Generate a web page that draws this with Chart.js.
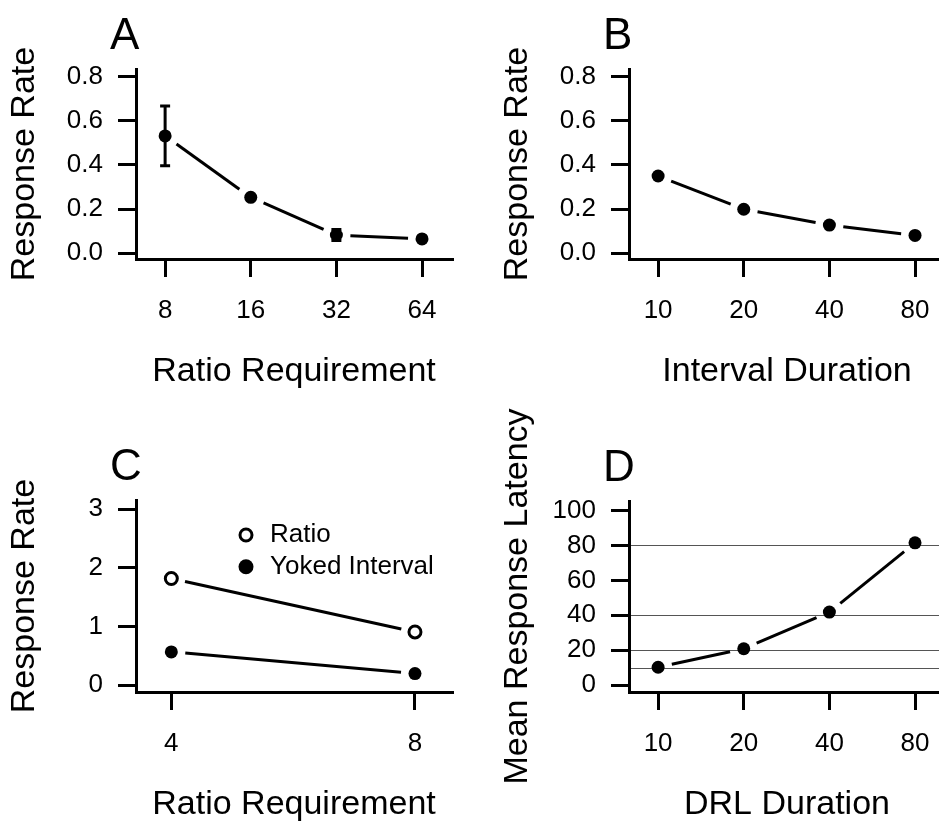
<!DOCTYPE html>
<html>
<head>
<meta charset="utf-8">
<script src="https://cdn.jsdelivr.net/npm/chart.js@4.4.1/dist/chart.umd.min.js"></script>
<style>
  html, body { margin: 0; padding: 0; background: #fff; }
  #figure { position: relative; width: 939px; height: 821px; overflow: hidden; background: #fff; }
  #figure canvas { position: absolute; }
</style>
</head>
<body>
<div id="figure">
  <canvas id="panelA" width="470" height="400" style="left:0;top:0"></canvas>
  <canvas id="panelB" width="470" height="400" style="left:493px;top:0"></canvas>
  <canvas id="panelC" width="470" height="440" style="left:0;top:393px"></canvas>
  <canvas id="panelD" width="470" height="440" style="left:493px;top:393px"></canvas>
</div>
<script>
// ===== data =====

// A: fixed ratio
const ratioReq = [8, 16, 32, 64];
const ratioRate = [0.532, 0.253, 0.082, 0.064];
const ratioErrLow = [0.397, null, 0.057, null];
const ratioErrHigh = [0.668, null, 0.107, null];

// B: fixed interval
const intervalDur = [10, 20, 40, 80];
const intervalRate = [0.35, 0.199, 0.127, 0.08];

// C: ratio vs yoked interval
const yokedReq = [4, 8];
const yokedRatioRate = [1.82, 0.91];
const yokedIntervalRate = [0.57, 0.2];
const seriesNames = ["Ratio", "Yoked Interval"];

// D: DRL
const drlDur = [10, 20, 40, 80];
const drlLatency = [10.2, 20.8, 41.8, 81.5];
const drlGuides = [10, 20, 40, 80];

// tick labels
const rateTicksAB = [0, 0.2, 0.4, 0.6, 0.8];
const rateTicksC = [0, 1, 2, 3];
const latencyTicks = [0, 20, 40, 60, 80, 100];

// ===== style =====

const FONT = "'Liberation Sans', Arial, Helvetica, sans-serif";
Chart.defaults.font.family = FONT;
Chart.defaults.color = "#000";

function toPoints(xs, ys) {
  return xs.map((x, i) => ({ x, y: ys[i] }));
}

// panel letter above the y axis
const panelLetter = {
  id: "panelLetter",
  afterDraw(chart, args, opts) {
    const { ctx, chartArea } = chart;
    ctx.save();
    ctx.font = `44px ${FONT}`;
    ctx.fillStyle = "#000";
    ctx.textAlign = "left";
    ctx.textBaseline = "alphabetic";
    ctx.fillText(opts.text, chartArea.left - 26, chartArea.top - 20);
    ctx.restore();
  },
};

// thin horizontal guide lines (panel D)
const guideLines = {
  id: "guideLines",
  beforeDatasetsDraw(chart, args, opts) {
    if (!opts.values || !opts.values.length) return;
    const { ctx, chartArea, scales } = chart;
    ctx.save();
    ctx.strokeStyle = "#555";
    ctx.lineWidth = 1;
    opts.values.forEach((v) => {
      const y = Math.round(scales.y.getPixelForValue(v)) + 0.5;
      ctx.beginPath();
      ctx.moveTo(chartArea.left + 2, y);
      ctx.lineTo(chartArea.right, y);
      ctx.stroke();
    });
    ctx.restore();
  },
};

// lines between points, stopping short of each point
const gapLines = {
  id: "gapLines",
  beforeDatasetsDraw(chart, args, opts) {
    const { ctx } = chart;
    const gap = opts.gap || 14;
    ctx.save();
    ctx.strokeStyle = "#000";
    ctx.lineWidth = 3;
    ctx.lineCap = "butt";
    chart.data.datasets.forEach((ds, i) => {
      const pts = chart.getDatasetMeta(i).data;
      for (let k = 1; k < pts.length; k++) {
        const a = pts[k - 1];
        const b = pts[k];
        const dx = b.x - a.x;
        const dy = b.y - a.y;
        const len = Math.hypot(dx, dy);
        if (len <= gap * 2) continue;
        const ux = dx / len;
        const uy = dy / len;
        ctx.beginPath();
        ctx.moveTo(a.x + ux * gap, a.y + uy * gap);
        ctx.lineTo(b.x - ux * gap, b.y - uy * gap);
        ctx.stroke();
      }
    });
    ctx.restore();
  },
};

// vertical error bars with caps
const errorBars = {
  id: "errorBars",
  beforeDatasetsDraw(chart) {
    const { ctx, scales } = chart;
    ctx.save();
    ctx.strokeStyle = "#000";
    ctx.lineWidth = 3;
    chart.data.datasets.forEach((ds, i) => {
      if (!ds.errLow) return;
      const pts = chart.getDatasetMeta(i).data;
      pts.forEach((p, k) => {
        if (ds.errLow[k] == null) return;
        const y1 = scales.y.getPixelForValue(ds.errLow[k]);
        const y2 = scales.y.getPixelForValue(ds.errHigh[k]);
        ctx.beginPath();
        ctx.moveTo(p.x, y1);
        ctx.lineTo(p.x, y2);
        ctx.moveTo(p.x - 5, y1);
        ctx.lineTo(p.x + 5, y1);
        ctx.moveTo(p.x - 5, y2);
        ctx.lineTo(p.x + 5, y2);
        ctx.stroke();
      });
    });
    ctx.restore();
  },
};

// small key inside the plot (panel C)
const keyBox = {
  id: "keyBox",
  afterDatasetsDraw(chart, args, opts) {
    if (!opts.show) return;
    const { ctx, chartArea } = chart;
    ctx.save();
    chart.data.datasets.forEach((ds, i) => {
      const cx = chartArea.left + opts.dx;
      const cy = chartArea.top + opts.dy + i * opts.rowGap;
      ctx.beginPath();
      if (ds.pointBorderWidth) {
        ctx.arc(cx, cy, 6, 0, Math.PI * 2);
        ctx.fillStyle = ds.pointBackgroundColor;
        ctx.fill();
        ctx.lineWidth = ds.pointBorderWidth;
        ctx.strokeStyle = ds.pointBorderColor;
        ctx.stroke();
      } else {
        ctx.arc(cx, cy, 7.5, 0, Math.PI * 2);
        ctx.fillStyle = ds.pointBackgroundColor;
        ctx.fill();
      }
      ctx.fillStyle = "#000";
      ctx.font = `26px ${FONT}`;
      ctx.textAlign = "left";
      ctx.textBaseline = "middle";
      ctx.fillText(ds.label, cx + 24, cy);
    });
    ctx.restore();
  },
};

function filledSeries(label, xs, ys, extra) {
  return Object.assign(
    {
      label,
      data: toPoints(xs, ys),
      showLine: false,
      pointRadius: 6.5,
      pointBorderWidth: 0,
      pointBackgroundColor: "#000",
      pointBorderColor: "#000",
    },
    extra || {},
  );
}

function buatPanel(id, cfg) {
  return new Chart(document.getElementById(id), {
    type: "scatter",
    data: { datasets: cfg.datasets },
    options: {
      responsive: false,
      animation: false,
      events: [],
      layout: { padding: { top: cfg.top, right: 18, left: 0, bottom: 0 } },
      plugins: {
        legend: { display: false },
        tooltip: { enabled: false },
        panelLetter: { text: cfg.letter },
        guideLines: { values: cfg.guides || [] },
        gapLines: { gap: 14 },
        keyBox: { show: !!cfg.key, dx: 110, dy: 35, rowGap: 31.7 },
      },
      scales: {
        x: {
          type: "logarithmic",
          position: "bottom",
          bounds: "data",
          min: cfg.xMin,
          max: cfg.xMax,
          afterBuildTicks: (s) => {
            s.ticks = cfg.xTicks.map((v) => ({ value: v }));
          },
          afterFit: (s) => {
            s.height = 141;
          },
          ticks: {
            callback: (v) => String(v),
            autoSkip: false,
            maxRotation: 0,
            padding: 21,
            font: { size: 26, lineHeight: 1 },
          },
          grid: {
            drawOnChartArea: false,
            drawTicks: true,
            tickLength: 18,
            tickWidth: 3,
            lineWidth: 3,
            tickColor: "#000",
          },
          border: { display: true, width: 3, color: "#000" },
          title: {
            display: true,
            text: cfg.xTitle,
            font: { size: 34, lineHeight: 1 },
            padding: { top: 0, bottom: 11 },
          },
        },
        y: {
          type: "linear",
          position: "left",
          bounds: "data",
          min: cfg.yMin,
          max: cfg.yMax,
          afterBuildTicks: (s) => {
            s.ticks = cfg.yTicks.map((v) => ({ value: v }));
          },
          afterFit: (s) => {
            s.width = 136;
          },
          ticks: {
            callback: cfg.yFormat,
            autoSkip: false,
            padding: 15,
            font: { size: 26, lineHeight: 1 },
          },
          grid: {
            drawOnChartArea: false,
            drawTicks: true,
            tickLength: 18,
            tickWidth: 3,
            lineWidth: 3,
            tickColor: "#000",
          },
          border: { display: true, width: 3, color: "#000" },
          title: {
            display: true,
            text: cfg.yTitle,
            font: { size: 34, lineHeight: 1 },
            padding: { top: 8, bottom: 0 },
          },
        },
      },
    },
    plugins: [panelLetter, guideLines, gapLines, errorBars, keyBox],
  });
}

// ===== panels =====

buatPanel("panelA", {
  letter: "A",
  top: 69,
  datasets: [
    filledSeries("Ratio", ratioReq, ratioRate, {
      errLow: ratioErrLow,
      errHigh: ratioErrHigh,
    }),
  ],
  xTicks: ratioReq,
  xMin: 8 * Math.pow(2, -0.34),
  xMax: 64 * Math.pow(2, 0.35),
  yTicks: rateTicksAB,
  yMin: -0.027,
  yMax: 0.836,
  yFormat: (v) => v.toFixed(1),
  xTitle: "Ratio Requirement",
  yTitle: "Response Rate",
});

buatPanel("panelB", {
  letter: "B",
  top: 69,
  datasets: [filledSeries("Interval", intervalDur, intervalRate)],
  xTicks: intervalDur,
  xMin: 10 * Math.pow(2, -0.34),
  xMax: 80 * Math.pow(2, 0.35),
  yTicks: rateTicksAB,
  yMin: -0.027,
  yMax: 0.836,
  yFormat: (v) => v.toFixed(1),
  xTitle: "Interval Duration",
  yTitle: "Response Rate",
});

buatPanel("panelC", {
  letter: "C",
  top: 107,
  key: true,
  datasets: [
    filledSeries(seriesNames[0], yokedReq, yokedRatioRate, {
      pointRadius: 6,
      pointBorderWidth: 3,
      pointBackgroundColor: "#fff",
    }),
    filledSeries(seriesNames[1], yokedReq, yokedIntervalRate),
  ],
  xTicks: yokedReq,
  xMin: 4 * Math.pow(2, -0.145),
  xMax: 8 * Math.pow(2, 0.152),
  yTicks: rateTicksC,
  yMin: -0.114,
  yMax: 3.159,
  yFormat: (v) => String(v),
  xTitle: "Ratio Requirement",
  yTitle: "Response Rate",
});

buatPanel("panelD", {
  letter: "D",
  top: 108,
  guides: drlGuides,
  datasets: [filledSeries("DRL", drlDur, drlLatency)],
  xTicks: drlDur,
  xMin: 10 * Math.pow(2, -0.34),
  xMax: 80 * Math.pow(2, 0.35),
  yTicks: latencyTicks,
  yMin: -4,
  yMax: 105.5,
  yFormat: (v) => String(v),
  xTitle: "DRL Duration",
  yTitle: "Mean Response Latency",
});
</script>
</body>
</html>
